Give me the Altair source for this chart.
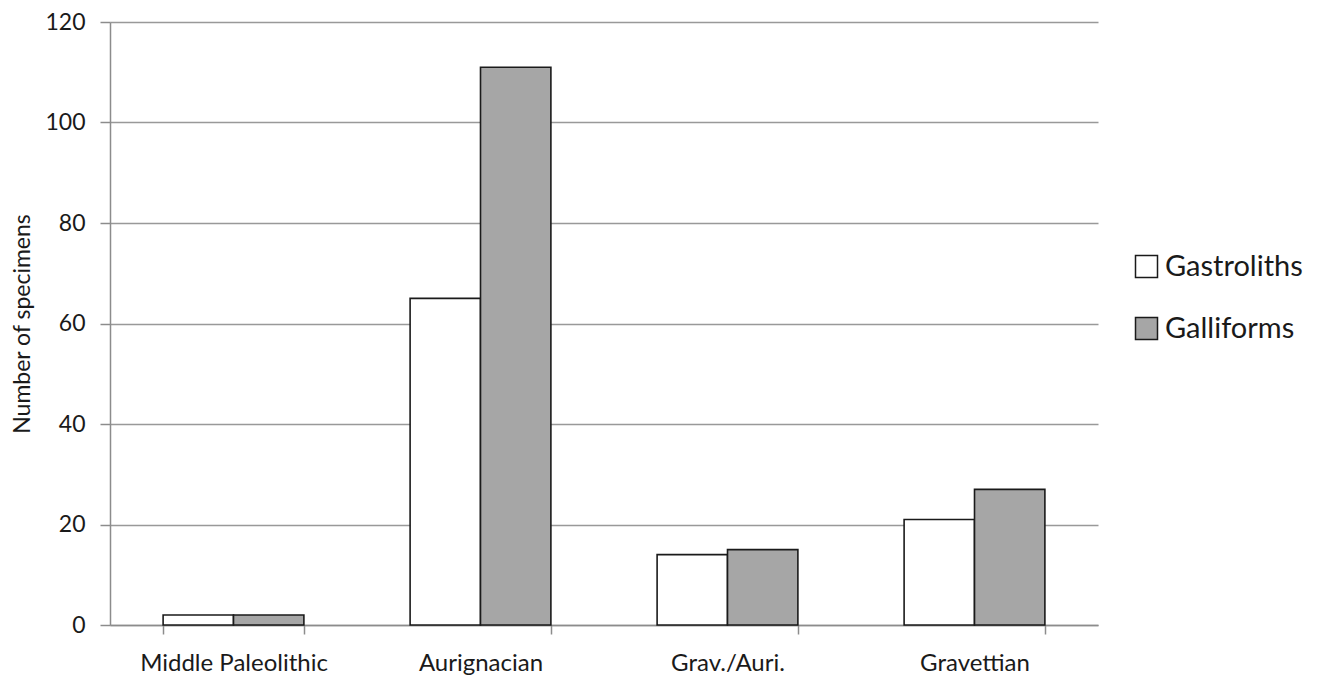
import altair as alt
import pandas as pd

periods = ["Middle Paleolithic", "Aurignacian", "Grav./Auri.", "Gravettian"]
series = ["Gastroliths", "Galliforms"]
gastroliths = [2, 65, 14, 21]
galliforms = [2, 111, 15, 27]

rows = []
for p, a, b in zip(periods, gastroliths, galliforms):
    rows.append({"period": p, "series": "Gastroliths", "value": a})
    rows.append({"period": p, "series": "Galliforms", "value": b})
df = pd.DataFrame(rows)

FONT = "Lato"

chart = alt.Chart(df).mark_bar(stroke="#1a1a1a", strokeWidth=1.6).encode(
    x=alt.X("period:N", sort=periods, title=None,
            scale=alt.Scale(paddingInner=0.43, paddingOuter=0.215),
            axis=alt.Axis(labelAngle=0, labelFontSize=24, labelColor="#1a1a1a",
                          labelFont=FONT, tickBand="extent", tickSize=9,
                          tickColor="#8c8c8c", domainColor="#8c8c8c",
                          domainWidth=1.5, tickWidth=1.5, labelPadding=17,
                          labelLimit=400, grid=False)),
    xOffset=alt.XOffset("series:N", sort=series),
    y=alt.Y("value:Q", title="Number of specimens",
            scale=alt.Scale(domain=[0, 120], nice=False),
            axis=alt.Axis(values=[0, 20, 40, 60, 80, 100, 120], labelFontSize=23,
                          labelFont=FONT, labelColor="#1a1a1a", titleFont=FONT,
                          titleFontSize=23, titleFontWeight="normal", titleColor="#1a1a1a",
                          titlePadding=10, tickSize=10, tickColor="#8c8c8c",
                          tickWidth=1.5, domainColor="#8c8c8c", domainWidth=1.5,
                          labelPadding=15, gridColor="#999999", gridWidth=1.5)),
    fill=alt.Fill("series:N", sort=series,
                  scale=alt.Scale(domain=series, range=["#ffffff", "#a6a6a6"]),
                  legend=alt.Legend(title=None, orient="none", legendX=1022, legendY=230,
                                    symbolType="square", symbolSize=484,
                                    symbolStrokeColor="#1a1a1a", symbolStrokeWidth=1.5,
                                    labelFontSize=29, labelFont=FONT, labelColor="#1a1a1a",
                                    rowPadding=32, labelOffset=4, labelLimit=400)),
).properties(
    width=988, height=603,
    padding={"left": 102, "top": 14, "right": 212, "bottom": 54},
    autosize=alt.AutoSizeParams(type="none"),
).configure_view(stroke=None)

chart.save("out.html", embed_options={"renderer": "svg", "actions": False})
